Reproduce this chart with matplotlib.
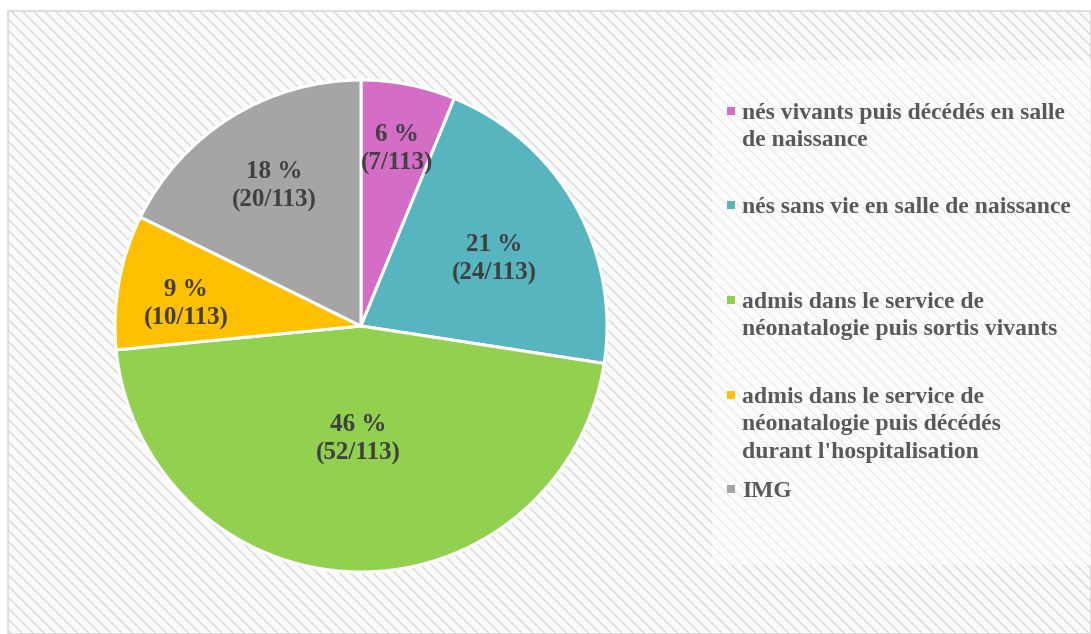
import numpy as np
import matplotlib.pyplot as plt
from matplotlib.patches import Rectangle

# Data
labels = ["nés vivants puis décédés en salle\nde naissance",
          "nés sans vie en salle de naissance",
          "admis dans le service de\nnéonatalogie puis sortis vivants",
          "admis dans le service de\nnéonatalogie puis décédés\ndurant l'hospitalisation",
          "IMG"]
counts = [7, 24, 52, 10, 20]
total = 113
percents = [6, 21, 46, 9, 18]
colors = ["#D36DC6", "#57B5C0", "#92D050", "#FFC000", "#A5A5A5"]

# label placement (fraction of radius) per slice + small pixel nudges
label_dist = [0.75, 0.61, 0.46, 0.71, 0.67]
label_nudge = [(0, -4), (3, -7), (0, 0), (-3, -9), (0, 0)]
legend_base = [119, 213, 308, 403, 497]  # pixel baseline of first legend line

plt.rcParams['font.family'] = ['Liberation Serif', 'DejaVu Serif']
plt.rcParams['hatch.linewidth'] = 1.0
plt.rcParams['hatch.color'] = '#e2e2e2'

W, H = 1091, 634
fig = plt.figure(figsize=(W / 100, H / 100), dpi=100)
fig.patch.set_facecolor('white')

# hatched chart area background
bg = Rectangle((8 / W, 0), 1 - 8 / W, (H - 11) / H, transform=fig.transFigure,
               facecolor='#fafafa', edgecolor='#d9d9d9', hatch='\\\\\\',
               linewidth=1.2, zorder=0)
fig.add_artist(bg)
# lighter box behind legend
lg = Rectangle((712 / W, (H - 565) / H), (W - 712) / W, 505 / H,
               transform=fig.transFigure, facecolor='white', alpha=0.5,
               edgecolor='none', zorder=0.5)
fig.add_artist(lg)

# pie axes
cx, cy, r = 361, 326, 246
ax = fig.add_axes([(cx - r) / W, (H - cy - r) / H, 2 * r / W, 2 * r / H])
ax.set_facecolor('none')
wedges, _ = ax.pie(counts, colors=colors, startangle=90, counterclock=False,
                   wedgeprops=dict(edgecolor='white', linewidth=2.2))
ax.set_xlim(-1, 1)
ax.set_ylim(-1, 1)
ax.set_aspect('equal')
ax.axis('off')

for w, p, c, d, nd in zip(wedges, percents, counts, label_dist, label_nudge):
    ang = np.deg2rad((w.theta1 + w.theta2) / 2)
    ax.annotate(f"{p} %\n({c}/{total})", (d * np.cos(ang), d * np.sin(ang)),
                xytext=(nd[0] * 0.72, nd[1] * 0.72), textcoords='offset points',
                ha='center', va='center', fontsize=18, fontweight='bold',
                color='#404040', linespacing=1.3)

# legend
for lab, col, y in zip(labels, colors, legend_base):
    fig.add_artist(Rectangle((727 / W, (H - y + 4) / H), 8 / W, 8 / H,
                             transform=fig.transFigure, facecolor=col,
                             edgecolor='none'))
    fig.text(742 / W, (H - y + 16) / H, lab, ha='left', va='top',
             fontsize=17, fontweight='bold', color='#595959', linespacing=1.4)

fig.savefig('out.png', dpi=100)
